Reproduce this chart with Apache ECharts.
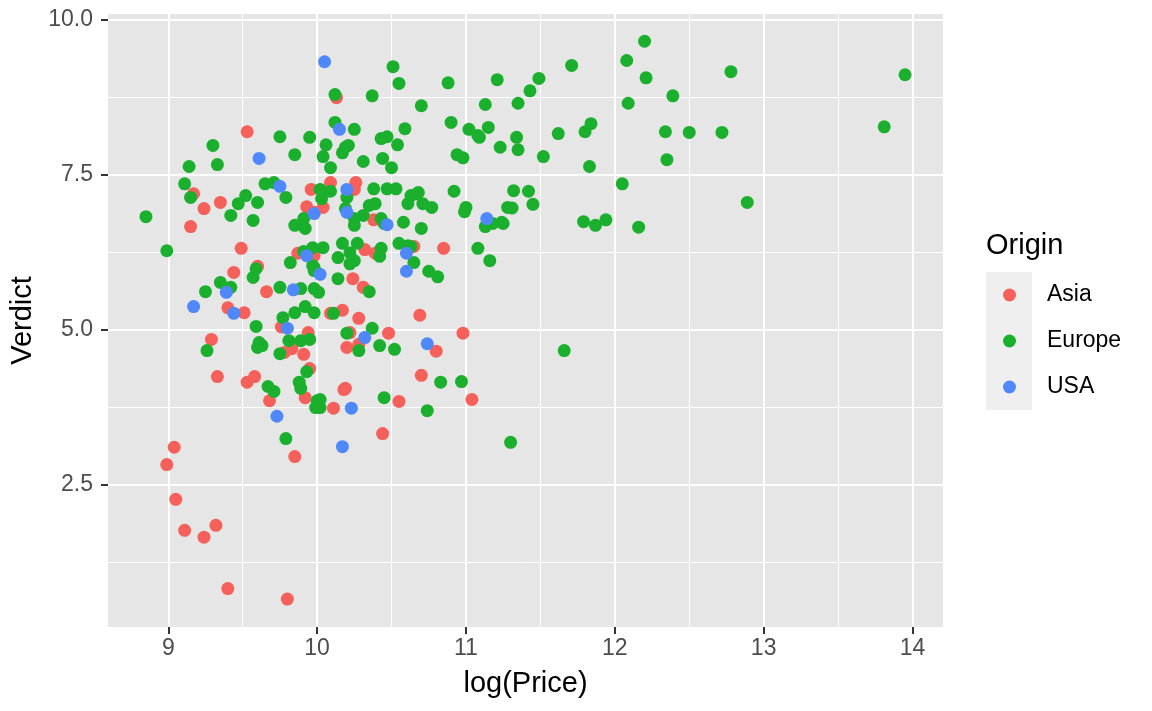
<!DOCTYPE html>
<html>
<head>
<meta charset="utf-8">
<script src="https://cdn.jsdelivr.net/npm/echarts@6/dist/echarts.min.js"></script>
<style>
html, body { margin: 0; padding: 0; background: #fff; }
#chart { width: 1152px; height: 711px; }
</style>
</head>
<body>
<div id="chart"></div>
<script>
// log(Price), Verdict pairs
var asia = [
  [9.53, 8.19], [10.13, 8.74], [9.17, 7.19], [9.24, 6.95], [9.35, 7.05], [9.15, 6.66],
  [9.49, 6.31], [9.60, 6.02], [9.44, 5.92], [9.66, 5.61], [9.40, 5.35], [9.51, 5.27],
  [9.29, 4.84], [9.33, 4.24], [9.53, 4.15], [9.58, 4.24], [9.68, 3.85], [9.92, 3.90],
  [9.76, 5.04], [9.94, 4.95], [9.78, 4.63], [9.83, 4.69], [9.91, 4.60], [9.95, 4.37],
  [9.04, 3.10], [8.99, 2.82], [9.85, 2.95], [9.05, 2.26], [9.11, 1.76], [9.24, 1.65],
  [9.32, 1.84], [9.40, 0.82], [9.80, 0.65], [9.96, 7.26], [10.09, 7.37], [10.26, 7.37],
  [10.25, 7.26], [9.93, 6.98], [9.98, 6.89], [10.04, 6.97], [10.38, 6.77], [10.65, 6.34],
  [10.85, 6.31], [9.98, 6.27], [9.98, 6.19], [10.32, 6.29], [10.39, 6.23], [10.24, 5.82],
  [10.31, 5.68], [10.69, 5.23], [10.09, 5.26], [10.17, 5.31], [10.28, 5.18], [10.22, 4.95],
  [10.48, 4.94], [10.98, 4.94], [10.20, 4.71], [10.28, 4.76], [10.80, 4.65], [10.70, 4.26],
  [10.55, 3.84], [11.04, 3.87], [10.18, 4.03], [10.19, 4.05], [10.11, 3.73], [10.44, 3.32],
  [9.87, 6.23]
];
var europe = [
  [9.75, 8.11], [9.95, 8.10], [9.30, 7.97], [9.85, 7.82], [9.14, 7.63], [9.33, 7.66],
  [9.11, 7.35], [9.15, 7.13], [9.65, 7.35], [9.71, 7.37], [9.79, 7.13], [9.52, 7.16],
  [9.47, 7.03], [9.60, 7.05], [9.42, 6.84], [9.57, 6.76], [8.85, 6.82], [8.99, 6.27],
  [9.82, 6.08], [9.85, 6.68], [9.91, 6.79], [9.92, 6.63], [9.91, 6.26], [9.97, 6.32],
  [9.97, 6.03], [9.25, 5.61], [9.35, 5.76], [9.42, 5.68], [9.57, 5.84], [9.59, 5.98],
  [9.75, 5.68], [9.89, 5.66], [9.98, 5.66], [9.59, 5.05], [9.77, 5.19], [9.85, 5.27],
  [9.92, 5.37], [9.98, 5.27], [9.61, 4.79], [9.63, 4.74], [9.60, 4.71], [9.81, 4.82],
  [9.89, 4.82], [9.95, 4.84], [9.75, 4.61], [9.26, 4.66], [9.93, 4.32], [9.88, 4.15],
  [9.89, 4.05], [9.67, 4.08], [9.71, 4.00], [10.00, 3.85], [9.99, 3.74], [9.79, 3.24],
  [10.51, 9.24], [10.55, 8.97], [10.88, 8.98], [11.21, 9.03], [10.12, 8.79], [10.37, 8.77],
  [10.70, 8.61], [11.13, 8.63], [10.12, 8.34], [10.25, 8.23], [10.06, 7.98], [10.04, 7.79],
  [10.09, 7.61], [10.17, 7.85], [10.19, 7.94], [10.21, 7.97], [10.31, 7.71], [10.44, 7.76],
  [10.43, 8.08], [10.47, 8.11], [10.59, 8.24], [10.54, 7.98], [10.50, 7.61], [10.90, 8.34],
  [11.02, 8.23], [11.08, 8.13], [11.09, 8.10], [11.15, 8.26], [11.23, 7.94], [10.94, 7.82],
  [10.98, 7.77], [10.38, 7.27], [10.47, 7.27], [10.53, 7.27], [10.68, 7.21], [10.92, 7.23],
  [10.09, 7.23], [10.02, 7.26], [10.03, 7.11], [10.20, 7.13], [10.19, 6.95], [10.63, 7.16],
  [10.67, 7.19], [10.61, 7.03], [10.71, 7.03], [10.77, 6.97], [11.00, 6.97], [10.99, 6.90],
  [11.28, 6.97], [11.31, 6.96], [10.35, 7.00], [10.39, 7.03], [10.25, 6.79], [10.31, 6.84],
  [10.25, 6.68], [10.43, 6.79], [10.45, 6.71], [10.58, 6.73], [10.70, 6.63], [11.13, 6.66],
  [11.18, 6.71], [11.24, 6.73], [10.17, 6.39], [10.27, 6.39], [10.22, 6.24], [10.25, 6.11],
  [10.22, 6.06], [10.14, 6.16], [10.04, 6.32], [10.43, 6.31], [10.42, 6.18], [10.55, 6.39],
  [10.61, 6.35], [10.63, 6.34], [10.65, 6.08], [10.75, 5.94], [10.81, 5.85], [11.08, 6.31],
  [11.16, 6.11], [10.14, 5.82], [9.98, 6.00], [9.98, 5.95], [10.35, 5.61], [10.01, 5.60],
  [10.11, 5.26], [10.37, 5.02], [10.20, 4.94], [10.28, 4.66], [10.42, 4.74], [10.52, 4.68],
  [10.02, 3.87], [10.02, 3.74], [10.45, 3.90], [10.83, 4.15], [10.97, 4.16], [10.74, 3.69],
  [11.30, 3.18], [11.49, 9.05], [11.43, 8.85], [11.35, 8.65], [11.71, 9.26], [12.08, 9.34],
  [12.20, 9.65], [12.21, 9.06], [12.39, 8.77], [12.78, 9.16], [13.95, 9.11], [12.09, 8.65],
  [11.34, 8.10], [11.35, 7.90], [11.52, 7.79], [11.62, 8.16], [11.80, 8.19], [11.84, 8.32],
  [11.83, 7.63], [12.34, 8.19], [12.50, 8.18], [12.72, 8.18], [12.35, 7.74], [13.81, 8.27],
  [12.05, 7.35], [12.89, 7.05], [11.32, 7.24], [11.42, 7.23], [11.45, 7.02], [11.25, 6.71],
  [11.79, 6.74], [11.87, 6.68], [11.94, 6.77], [12.16, 6.65], [11.66, 4.66]
];
var usa = [
  [10.05, 9.32], [10.15, 8.23], [9.61, 7.76], [9.75, 7.31], [9.17, 5.37], [9.39, 5.60],
  [9.44, 5.26], [9.84, 5.64], [9.80, 5.02], [9.73, 3.60], [10.20, 7.26], [9.98, 6.87],
  [10.20, 6.89], [10.47, 6.69], [10.60, 6.23], [10.60, 5.94], [11.14, 6.79], [10.02, 5.89],
  [9.93, 6.19], [10.32, 4.87], [10.74, 4.77], [10.23, 3.73], [10.17, 3.11]
];

var origins = ['Asia', 'Europe', 'USA'];
var colors = ['#F5605A', '#1AB02E', '#4F88FB'];
var xMajor = [9, 10, 11, 12, 13, 14];
var xMinor = [9.5, 10.5, 11.5, 12.5, 13.5];
var yMajor = [2.5, 5, 7.5, 10];
var yMinor = [1.25, 3.75, 6.25, 8.75];

var font = '"Liberation Sans", Arial, Helvetica, sans-serif';
var xMin = 8.595, xMax = 14.205, yMin = 0.2, yMax = 10.09;

var chart = echarts.init(document.getElementById('chart'));

function scatter(name, data, color) {
  return {
    name: name,
    type: 'scatter',
    data: data,
    symbol: 'circle',
    symbolSize: 13,
    itemStyle: { color: color, opacity: 1 },
    emphasis: { disabled: true }
  };
}

var option = {
  animation: false,
  textStyle: { fontFamily: font },
  title: {
    text: 'Origin',
    left: 986,
    top: 231,
    padding: 0,
    textStyle: { fontSize: 29, fontWeight: 'normal', color: '#000', fontFamily: font }
  },
  graphic: [{
    // legend key background column
    type: 'rect',
    left: 986,
    top: 272,
    z: 1,
    shape: { width: 46, height: 138 },
    style: { fill: '#EFEFEF' }
  }],
  legend: {
    data: origins,
    orient: 'vertical',
    left: 1003,
    top: 283,
    padding: 0,
    itemWidth: 13,
    itemHeight: 13,
    itemGap: 22,
    icon: 'circle',
    selectedMode: false,
    textStyle: { fontSize: 23, color: '#000', fontFamily: font, lineHeight: 24, padding: [0, 0, 0, 26] }
  },
  grid: {
    left: 108,
    right: 209,
    top: 14,
    bottom: 84,
    show: true,
    backgroundColor: '#E6E6E6',
    borderWidth: 0
  },
  xAxis: [{
    type: 'value',
    min: xMin,
    max: xMax,
    name: 'log(Price)',
    nameLocation: 'middle',
    nameGap: 42,
    nameTextStyle: { fontSize: 29, color: '#000', fontFamily: font },
    axisLine: { show: false },
    axisTick: { show: true, length: 7, customValues: xMajor, lineStyle: { color: '#333333', width: 2 } },
    axisLabel: { customValues: xMajor, fontSize: 23, color: '#4D4D4D', margin: 10, fontFamily: font },
    splitLine: { show: true, lineStyle: { color: '#fff', width: 2 } }
  }, {
    type: 'value',
    min: xMin,
    max: xMax,
    position: 'bottom',
    axisLine: { show: false },
    axisTick: { show: false, customValues: xMinor },
    axisLabel: { show: false, customValues: xMinor },
    splitLine: { show: true, lineStyle: { color: '#fff', width: 1 } }
  }],
  yAxis: [{
    type: 'value',
    min: yMin,
    max: yMax,
    name: 'Verdict',
    nameLocation: 'middle',
    nameGap: 65,
    nameRotate: 90,
    nameTextStyle: { fontSize: 29, color: '#000', fontFamily: font },
    axisLine: { show: false },
    axisTick: { show: true, length: 7, customValues: yMajor, lineStyle: { color: '#333333', width: 2 } },
    axisLabel: {
      customValues: yMajor,
      fontSize: 23,
      color: '#4D4D4D',
      margin: 15,
      fontFamily: font,
      formatter: function(v) { return v.toFixed(1); }
    },
    splitLine: { show: true, lineStyle: { color: '#fff', width: 2 } }
  }, {
    type: 'value',
    min: yMin,
    max: yMax,
    position: 'left',
    axisLine: { show: false },
    axisTick: { show: false, customValues: yMinor },
    axisLabel: { show: false, customValues: yMinor },
    splitLine: { show: true, lineStyle: { color: '#fff', width: 1 } }
  }],
  series: [
    scatter(origins[0], asia, colors[0]),
    scatter(origins[1], europe, colors[1]),
    scatter(origins[2], usa, colors[2])
  ]
};
chart.setOption(option);
</script>
</body>
</html>
